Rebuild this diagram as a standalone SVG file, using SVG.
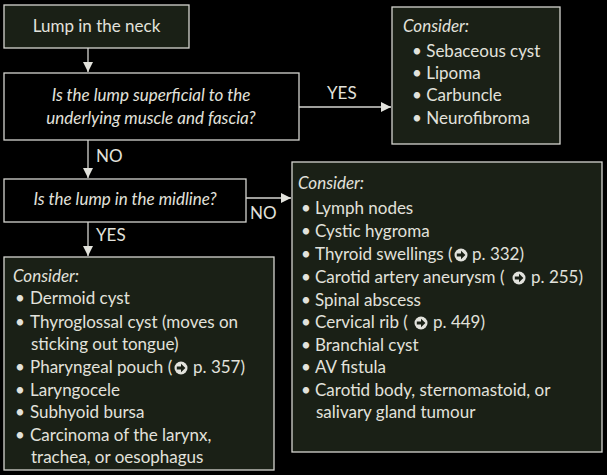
<svg xmlns="http://www.w3.org/2000/svg" width="607" height="475" viewBox="0 0 607 475">
<defs>
<style>
text{font-family:Lato,"Liberation Sans",sans-serif;font-size:17px;fill:#e2e2dc}
.it{font-style:italic}
.box{fill:#1a2016;stroke:#d4d4d0;stroke-width:1.3}
.q{fill:#000;stroke:#d4d4d0;stroke-width:1.3}
.ln{stroke:#d4d4d0;stroke-width:1.3;fill:none}
.ic circle{fill:#e2e2dc}
.ic path{fill:#1a2016}
</style>
<marker id="ah" viewBox="0 0 10 10" refX="10" refY="5" markerWidth="10" markerHeight="10" markerUnits="userSpaceOnUse" orient="auto">
<path d="M0,0 L10,5 L0,10 Z" fill="#e2e2dc"/>
</marker>
<g id="icon" class="ic">
<circle cx="0" cy="0" r="6.5"/>
<path d="M-4.2,-1.4 H0 V-4.3 L4.4,0 L0,4.3 V1.4 H-4.2 Z"/>
</g>
</defs>
<rect width="607" height="475" fill="#000"/>
<g id="connectors">
<line class="ln" x1="88" y1="48" x2="88" y2="72" marker-end="url(#ah)"/>
<line class="ln" x1="299" y1="107" x2="391" y2="107" marker-end="url(#ah)"/>
<line class="ln" x1="88" y1="140" x2="88" y2="178" marker-end="url(#ah)"/>
<line class="ln" x1="246" y1="198" x2="291" y2="198" marker-end="url(#ah)"/>
<line class="ln" x1="88" y1="222" x2="88" y2="256" marker-end="url(#ah)"/>
<text x="327" y="99">YES</text>
<text x="96" y="162">NO</text>
<text x="250" y="219">NO</text>
<text x="96" y="241">YES</text>
</g>
<g id="start">
<rect class="box" x="4" y="5" width="185" height="43"/>
<text x="96.5" y="32" text-anchor="middle">Lump in the neck</text>
</g>
<g id="q1">
<rect class="q" x="4" y="73" width="295" height="67"/>
<text class="it" x="151" y="101" text-anchor="middle">Is the lump superficial to the</text>
<text class="it" x="151" y="124" text-anchor="middle">underlying muscle and fascia?</text>
</g>
<g id="superficial">
<rect class="box" x="392" y="7" width="168" height="137"/>
<text class="it" x="403" y="32">Consider:</text>
<text x="412" y="57">• Sebaceous cyst</text>
<text x="412" y="79">• Lipoma</text>
<text x="412" y="101">• Carbuncle</text>
<text x="412" y="124">• Neurofibroma</text>
</g>
<g id="q2">
<rect class="q" x="4" y="179" width="242" height="43"/>
<text class="it" x="125" y="205" text-anchor="middle">Is the lump in the midline?</text>
</g>
<g id="notmidline">
<rect class="box" x="292" y="162" width="310" height="290"/>
<text class="it" x="298" y="189">Consider:</text>
<text x="301" y="214">•</text><text x="315" y="214">Lymph nodes</text>
<text x="301" y="237">•</text><text x="315" y="237">Cystic hygroma</text>
<text x="301" y="260">•</text><text x="315" y="260">Thyroid swellings (</text><use href="#icon" x="461" y="255"/><text x="472" y="260">p. 332)</text>
<text x="301" y="283">•</text><text x="315" y="283">Carotid artery aneurysm (</text><use href="#icon" x="519" y="278"/><text x="531" y="283">p. 255)</text>
<text x="301" y="306">•</text><text x="315" y="306">Spinal abscess</text>
<text x="301" y="328">•</text><text x="315" y="328">Cervical rib (</text><use href="#icon" x="421" y="323"/><text x="433" y="328">p. 449)</text>
<text x="301" y="351">•</text><text x="315" y="351">Branchial cyst</text>
<text x="301" y="373">•</text><text x="315" y="373">AV fistula</text>
<text x="301" y="396">•</text><text x="315" y="396">Carotid body, sternomastoid, or</text>
<text x="316" y="418">salivary gland tumour</text>
</g>
<g id="midline">
<rect class="box" x="4" y="257" width="270" height="213"/>
<text class="it" x="13" y="282">Consider:</text>
<text x="15" y="304">•</text><text x="30" y="304">Dermoid cyst</text>
<text x="15" y="328">•</text><text x="30" y="328">Thyroglossal cyst (moves on</text>
<text x="31" y="350">sticking out tongue)</text>
<text x="15" y="373">•</text><text x="30" y="373">Pharyngeal pouch (</text><use href="#icon" x="181" y="368"/><text x="193" y="373">p. 357)</text>
<text x="15" y="396">•</text><text x="30" y="396">Laryngocele</text>
<text x="15" y="418">•</text><text x="30" y="418">Subhyoid bursa</text>
<text x="15" y="441">•</text><text x="30" y="441">Carcinoma of the larynx,</text>
<text x="31" y="463">trachea, or oesophagus</text>
</g>
</svg>
